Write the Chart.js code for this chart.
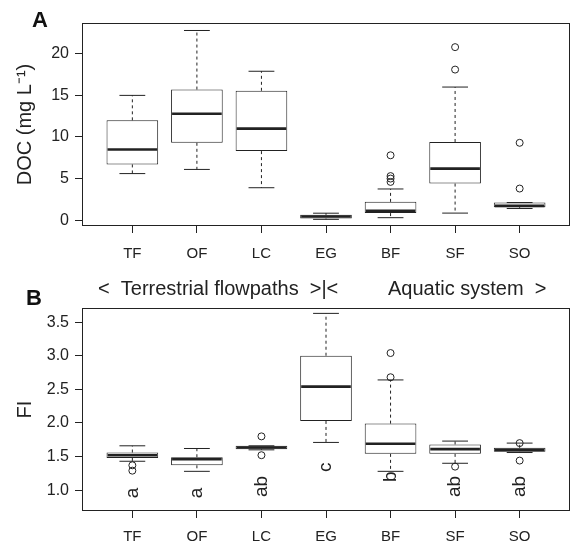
<!DOCTYPE html>
<html>
<head>
<meta charset="utf-8">
<script src="https://cdn.jsdelivr.net/npm/chart.js@4.4.1/dist/chart.umd.min.js"></script>
<style>
  html, body { margin: 0; padding: 0; background: #fff; }
  #wrap { position: relative; width: 571px; height: 544px; }
  canvas { position: absolute; left: 0; top: 0; }
</style>
</head>
<body>
<div id="wrap">
  <canvas id="docChart" width="571" height="544"></canvas>
  <canvas id="fiChart" width="571" height="544"></canvas>
</div>
<script>
// sites along the flowpath
const sites = ['TF', 'OF', 'LC', 'EG', 'BF', 'SF', 'SO'];

// panel A - DOC (mg/L)
const docLow  = [5.6, 6.1, 3.9, 0.1, 0.3, 0.85, 1.4];
const docQ1   = [6.7, 9.3, 8.3, 0.2, 0.85, 4.4, 1.56];
const docMed  = [8.5, 12.8, 11.0, 0.45, 1.12, 6.2, 1.72];
const docQ3   = [12.0, 15.7, 15.55, 0.64, 2.2, 9.4, 2.12];
const docHigh = [15.0, 22.8, 17.9, 0.84, 3.75, 16.0, 2.12];
const docOut  = [[], [], [], [], [7.8, 5.3, 5.0, 4.6], [20.8, 18.1], [9.3, 3.8]];
const docTicks = [0, 5, 10, 15, 20];

// panel B - fluorescence index
const fiLow  = [1.43, 1.28, 1.60, 1.71, 1.28, 1.40, 1.56];
const fiQ1   = [1.48, 1.37, 1.61, 2.03, 1.54, 1.54, 1.57];
const fiMed  = [1.52, 1.46, 1.635, 2.54, 1.69, 1.61, 1.60];
const fiQ3   = [1.56, 1.49, 1.66, 3.0, 1.99, 1.68, 1.63];
const fiHigh = [1.66, 1.62, 1.66, 3.63, 2.64, 1.73, 1.70];
const fiOut  = [[1.37, 1.29], [], [1.80, 1.52], [], [3.04, 2.68], [1.35], [1.70, 1.44]];
const fiTicks = [1.0, 1.5, 2.0, 2.5, 3.0, 3.5];
const fiLetters = ['a', 'a', 'ab', 'c', 'b', 'ab', 'ab'];
const fiLetterY = [0.96, 0.96, 1.055, 1.34, 1.2, 1.055, 1.055];

const ink = '#222';
Chart.defaults.font.family = '"Liberation Sans", Arial, Helvetica, sans-serif';
Chart.defaults.color = ink;

// whiskers, caps, medians and letters, drawn on the chart's own scales
const boxExtras = {
    id: 'boxExtras',
    afterDatasetsDraw(chart, args, o) {
        const {ctx, scales: {x, y}} = chart;
        const half = x.getPixelForValue(1.4) - x.getPixelForValue(1);
        const cap = x.getPixelForValue(1.2) - x.getPixelForValue(1);
        ctx.save();
        ctx.strokeStyle = ink;
        sites.forEach((s, i) => {
            const px = x.getPixelForValue(i + 1);
            ctx.lineWidth = 1;
            ctx.setLineDash([3, 3]);
            ctx.beginPath();
            if (o.high[i] > o.q3[i]) {
                ctx.moveTo(px, y.getPixelForValue(o.q3[i]));
                ctx.lineTo(px, y.getPixelForValue(o.high[i]));
            }
            if (o.low[i] < o.q1[i]) {
                ctx.moveTo(px, y.getPixelForValue(o.q1[i]));
                ctx.lineTo(px, y.getPixelForValue(o.low[i]));
            }
            ctx.stroke();
            ctx.setLineDash([]);
            ctx.beginPath();
            [o.high[i], o.low[i]].forEach(v => {
                const py = y.getPixelForValue(v);
                ctx.moveTo(px - cap, py);
                ctx.lineTo(px + cap, py);
            });
            ctx.stroke();
            ctx.lineWidth = 2.6;
            ctx.beginPath();
            const my = y.getPixelForValue(o.med[i]);
            ctx.moveTo(px - half + 1, my);
            ctx.lineTo(px + half - 1, my);
            ctx.stroke();
            if (o.letters) {
                ctx.save();
                ctx.translate(px, y.getPixelForValue(o.letterY[i]));
                ctx.rotate(-Math.PI / 2);
                ctx.fillStyle = ink;
                ctx.font = '19px "Liberation Sans", Arial, sans-serif';
                ctx.textAlign = 'center';
                ctx.textBaseline = 'middle';
                ctx.fillText(o.letters[i], 0, 0);
                ctx.restore();
            }
        });
        // frame around the plotting region
        const a = chart.chartArea;
        ctx.lineWidth = 1;
        ctx.strokeRect(Math.round(a.left) + 0.5, Math.round(a.top) + 0.5,
            Math.round(a.right - a.left) - 1, Math.round(a.bottom - a.top) - 1);
        // panel letter and header text
        ctx.fillStyle = '#111';
        ctx.textBaseline = 'alphabetic';
        ctx.textAlign = 'center';
        ctx.font = 'bold 22px "Liberation Sans", Arial, sans-serif';
        ctx.fillText(o.panel, o.panelX, o.panelY);
        if (o.header) {
            ctx.fillStyle = ink;
            ctx.textAlign = 'left';
            ctx.font = '20px "Liberation Sans", Arial, sans-serif';
            o.header.forEach(h => ctx.fillText(h[0], h[1], h[2]));
        }
        ctx.restore();
    }
};

function boxChart(id, d) {
    const boxes = sites.map((s, i) => ({x: i + 1, y: [d.q1[i], d.q3[i]]}));
    const outliers = [];
    d.out.forEach((list, i) => list.forEach(v => outliers.push({x: i + 1, y: v})));

    return new Chart(document.getElementById(id), {
        type: 'bar',
        data: {
            datasets: [{
                type: 'bar',
                data: boxes,
                backgroundColor: '#fff',
                borderColor: ink,
                borderWidth: 1,
                borderSkipped: false,
                barPercentage: 0.8,
                categoryPercentage: 1
            }, {
                type: 'scatter',
                data: outliers,
                pointStyle: 'circle',
                pointRadius: 3.5,
                borderWidth: 1,
                borderColor: ink,
                backgroundColor: 'rgba(0,0,0,0)'
            }]
        },
        options: {
            responsive: false,
            animation: false,
            events: [],
            layout: {padding: d.padding, autoPadding: false},
            plugins: {
                legend: {display: false},
                tooltip: {enabled: false},
                boxExtras: d
            },
            scales: {
                x: {
                    type: 'linear',
                    min: 0.22,
                    max: 7.78,
                    offset: false,
                    afterBuildTicks: s => { s.ticks = sites.map((c, i) => ({value: i + 1})); },
                    afterFit: s => {
                        s.height = d.xAxisH;
                        s.paddingLeft = 0;
                        s.paddingRight = 0;
                    },
                    grid: {offset: false, drawOnChartArea: false, drawTicks: true, tickLength: 7, color: ink},
                    border: {display: false},
                    ticks: {
                        autoSkip: false,
                        maxRotation: 0,
                        padding: d.xPad,
                        font: {size: 15},
                        callback: v => sites[Math.round(v) - 1]
                    }
                },
                y: {
                    min: d.yMin,
                    max: d.yMax,
                    beginAtZero: false,
                    afterBuildTicks: s => { s.ticks = d.ticks.map(v => ({value: v})); },
                    afterFit: s => { s.width = 82; },
                    grid: {drawOnChartArea: false, drawTicks: true, tickLength: 7, color: ink},
                    border: {display: false},
                    ticks: {
                        padding: 6,
                        font: {size: 16},
                        callback: d.fmt
                    },
                    title: {
                        display: true,
                        text: d.title,
                        font: {size: 20},
                        padding: {top: 13, bottom: 0}
                    }
                }
            }
        },
        plugins: [boxExtras]
    });
}

boxChart('docChart', {
    low: docLow, q1: docQ1, med: docMed, q3: docQ3, high: docHigh, out: docOut,
    ticks: docTicks, yMin: -0.7, yMax: 23.7, fmt: v => String(v),
    title: 'DOC (mg L\u207B\u00B9)',
    padding: {top: 23, left: 0, right: 1, bottom: 278},
    xAxisH: 40, xPad: 12,
    panel: 'A', panelX: 40, panelY: 27
});

boxChart('fiChart', {
    low: fiLow, q1: fiQ1, med: fiMed, q3: fiQ3, high: fiHigh, out: fiOut,
    ticks: fiTicks, yMin: 0.69, yMax: 3.71, fmt: v => v.toFixed(1),
    title: 'FI',
    letters: fiLetters, letterY: fiLetterY,
    padding: {top: 308, left: 0, right: 1, bottom: 0},
    xAxisH: 33, xPad: 10,
    panel: 'B', panelX: 34, panelY: 305,
    header: [['<  Terrestrial flowpaths  >|<', 98, 295], ['Aquatic system  >', 388, 295]]
});
</script>
</body>
</html>
